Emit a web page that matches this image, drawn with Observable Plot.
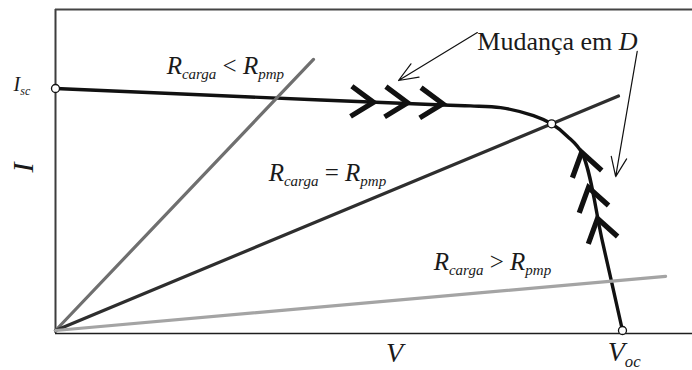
<!DOCTYPE html>
<html>
<head>
<meta charset="utf-8">
<script src="https://cdn.jsdelivr.net/npm/d3@7"></script>
<script src="https://cdn.jsdelivr.net/npm/@observablehq/plot@0.6"></script>
<style>
  body { margin: 0; background: #fff; }
</style>
</head>
<body>
<script>
// I–V characteristic of the PV panel, normalised (V / Voc, I / Isc)
const curveV = [0, 0.344, 0.684, 0.732, 0.785, 0.843, 0.875, 0.903, 0.929, 0.965, 1.0];
const curveI = [1.0, 0.965, 0.932, 0.928, 0.921, 0.888, 0.854, 0.802, 0.731, 0.364, 0];

// Load lines through the origin: I = V / Rcarga
const loadNames = ["Rcarga < Rpmp", "Rcarga = Rpmp", "Rcarga > Rpmp"];
const loadEndV = [0.455, 0.993, 1.076];
const loadEndI = [1.120, 0.969, 0.224];

// Marked points: short circuit, maximum power point, open circuit
const pointNames = ["Isc", "pmp", "Voc"];
const pointV = [0, 0.875, 1.0];
const pointI = [1.0, 0.854, 0];

// Chevrons showing how the operating point moves as D changes
const markV = [0.561, 0.621, 0.683, 0.928, 0.940, 0.956];
const markI = [0.943, 0.941, 0.937, 0.736, 0.591, 0.463];
const markHeading = [92.5, 92.5, 92.5, -14, -14, -14];

// "Mudança em D" pointers
const noteFromV = [0.744, 1.026];
const noteFromI = [1.231, 1.153];
const noteToV = [0.605, 0.988];
const noteToI = [1.033, 0.636];

// Text labels: pieces are [text, kind] with kind "" roman, "i" italic, "s" italic subscript
const labelParts = [
  [["R", "i"], ["carga", "s"], [" < ", ""], ["R", "i"], ["pmp", "s"]],
  [["R", "i"], ["carga", "s"], [" = ", ""], ["R", "i"], ["pmp", "s"]],
  [["R", "i"], ["carga", "s"], [" > ", ""], ["R", "i"], ["pmp", "s"]],
  [["Mudança em ", ""], ["D", "i"]],
  [["I", "i"], ["sc", "s"]],
  [["V", "i"]],
  [["V", "i"], ["oc", "s"]]
];
const labelV = [0.196, 0.376, 0.667, 0.744, -0.074, 0.583, 0.974];
const labelI = [1.058, 0.616, 0.248, 1.157, 0.988, -0.132, -0.128];
const axisLabelI = "I";

const xMax = 1.1235, yMin = -0.0124, yMax = 1.3264;
const serif = "'Liberation Serif', 'Times New Roman', serif";
const labelSize = [25, 25, 25, 26, 20, 28, 28];

const curve = curveV.map((v, k) => ({v, i: curveI[k]}));
const loads = loadNames.flatMap((name, k) => [
  {name, v: 0, i: 0},
  {name, v: loadEndV[k], i: loadEndI[k]}
]);
const points = pointNames.map((name, k) => ({name, v: pointV[k], i: pointI[k]}));
const marks = markV.map((v, k) => ({v, i: markI[k], heading: markHeading[k]}));
const notes = noteFromV.map((v, k) => ({v1: v, i1: noteFromI[k], v2: noteToV[k], i2: noteToI[k]}));
const plain = (parts) => parts.map((p) => p[0]).join("");
const labels = labelParts.map((parts, k) => ({parts, text: plain(parts), v: labelV[k], i: labelI[k], size: labelSize[k]}));

// open "^" drawn pointing up from its tip; the vector mark rotates it
const chevron = {
  draw(context, l) {
    const a = 34 * Math.PI / 180;
    const w = l * Math.sin(a), h = l * Math.cos(a);
    context.moveTo(-w, h);
    context.lineTo(0, 0);
    context.lineTo(w, h);
  }
};

const chart = Plot.plot({
  width: 692,
  height: 370,
  marginLeft: 55,
  marginRight: 0,
  marginTop: 9,
  marginBottom: 37,
  x: {domain: [0, xMax], axis: null},
  y: {domain: [yMin, yMax], axis: null},
  color: {domain: loadNames, range: ["#6f6f6f", "#2e2e2e", "#a4a4a4"]},
  style: {background: "#fff", fontFamily: serif},
  marks: [
    // frame: left, top and bottom edges
    Plot.ruleX([0], {y1: yMin, y2: yMax, stroke: "#3d3d3d", strokeWidth: 2}),
    Plot.ruleY([yMax], {x1: 0, x2: xMax, stroke: "#444", strokeWidth: 2.2}),
    Plot.ruleY([yMin], {x1: 0, x2: xMax, stroke: "#1e1e1e", strokeWidth: 1.6}),
    // I–V curve
    Plot.line(curve, {x: "v", y: "i", curve: "catmull-rom", stroke: "#111", strokeWidth: 3.4}),
    // load lines
    Plot.line(loads, {x: "v", y: "i", z: "name", stroke: "name", strokeWidth: 3.2}),
    // direction chevrons
    Plot.vector(marks, {
      x: "v", y: "i", rotate: "heading", length: 27, anchor: "start", shape: chevron,
      stroke: "#111", strokeWidth: 5.2, strokeLinejoin: "miter", strokeLinecap: "butt"
    }),
    // pointers from the annotation
    Plot.arrow(notes, {x1: "v1", y1: "i1", x2: "v2", y2: "i2", stroke: "#111", strokeWidth: 1.2, headLength: 26, headAngle: 44}),
    // Isc, MPP and Voc markers
    Plot.dot(points, {x: "v", y: "i", r: 4, fill: "#fff", stroke: "#111", strokeWidth: 1.3}),
    // labels
    ...labels.map((d) => Plot.text([d], {
      x: "v", y: "i", text: "text", textAnchor: "start", lineAnchor: "bottom",
      fontFamily: serif, fontSize: d.size, fill: "#1a1a1a"
    })),
    Plot.text([axisLabelI], {
      x: -0.056, y: 0.674, text: (d) => d, rotate: -90, textAnchor: "middle", lineAnchor: "middle",
      fontFamily: serif, fontStyle: "italic", fontSize: 30, fill: "#1a1a1a"
    })
  ]
});

// turn label pieces into tspans (italics and subscripts)
const byText = new Map(labels.map((d) => [d.text, d]));
chart.querySelectorAll("text").forEach((t) => {
  const d = byText.get(t.textContent);
  if (!d) return;
  t.textContent = "";
  let shift = 0;
  for (const [s, kind] of d.parts) {
    const ts = document.createElementNS("http://www.w3.org/2000/svg", "tspan");
    ts.textContent = s;
    ts.setAttribute("font-family", serif);
    ts.setAttribute("font-style", kind ? "italic" : "normal");
    const target = kind === "s" ? d.size * 0.2 : 0;
    if (kind === "s") ts.setAttribute("font-size", d.size * 0.6);
    if (target !== shift) {
      ts.setAttribute("dy", target - shift);
      shift = target;
    }
    t.appendChild(ts);
  }
  t.setAttribute("xml:space", "preserve");
  t.style.whiteSpace = "pre";
});

document.body.appendChild(chart);
</script>
</body>
</html>
